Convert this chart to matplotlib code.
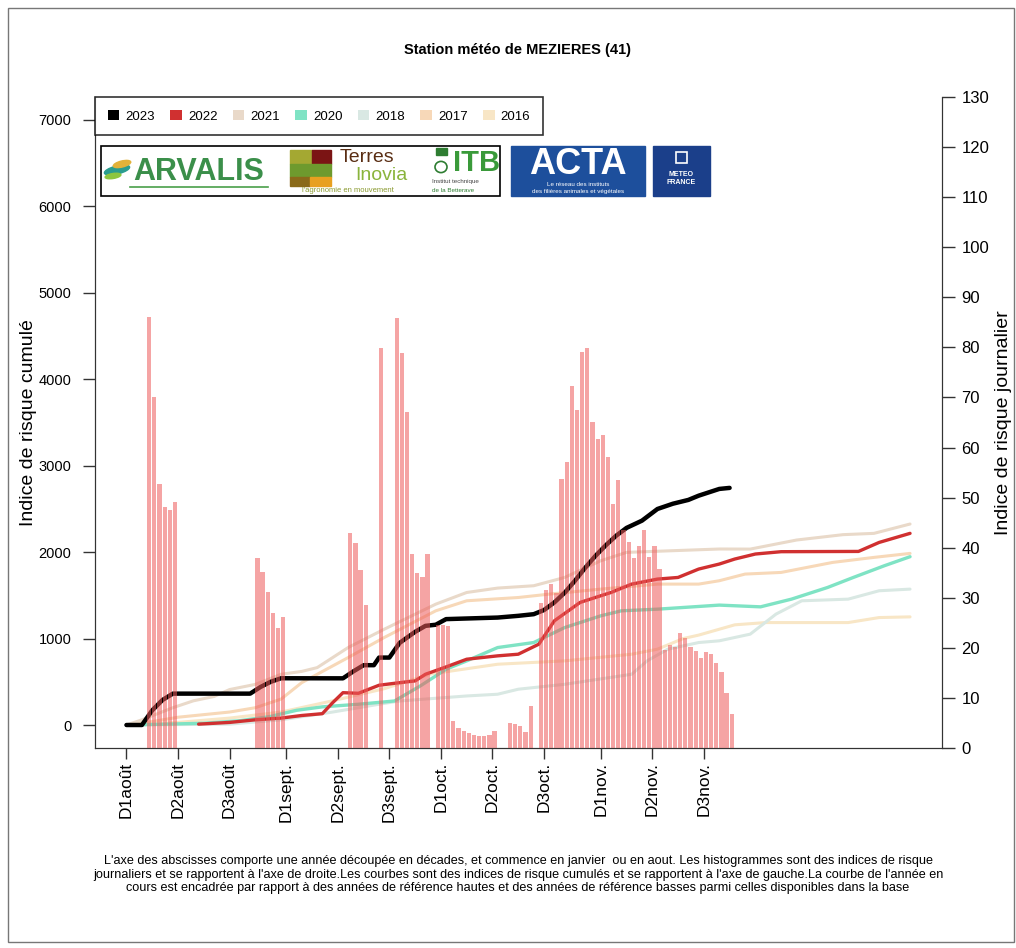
import matplotlib.pyplot as plt
from matplotlib.patches import Rectangle, Patch, Ellipse, Circle

plt.rcParams["font.family"] = ["Liberation Sans", "DejaVu Sans"]

W, H = 1016, 948

# decade ticks, days counted from 1 August
tick_days = [0, 10, 20, 31, 41, 51, 61, 71, 81, 92, 102, 112]
tick_labels = ["D1août", "D2août", "D3août", "D1sept.", "D2sept.", "D3sept.",
               "D1oct.", "D2oct.", "D3oct.", "D1nov.", "D2nov.", "D3nov."]

# daily risk index 2023 (right axis)
bar_days = [4, 5, 6, 7, 8, 9,
            25, 26, 27, 28, 29, 30,
            43, 44, 45, 46,
            49,
            52, 53, 54, 55, 56, 57, 58,
            60, 61, 62,
            63, 64, 65, 66, 67, 68, 69, 70, 71,
            74, 75, 76, 77, 78,
            80, 81, 82, 83, 84, 85, 86, 87, 88, 89,
            90, 91, 92, 93, 94, 95, 96, 97, 98, 99,
            100, 101, 102, 103, 104, 105, 106, 107, 108, 109,
            110, 111, 112, 113, 114, 115, 116, 117]
bar_vals = [86.1, 70.1, 52.8, 48.2, 47.6, 49.2,
            38.0, 35.2, 31.1, 27.0, 24.0, 26.1,
            43.0, 41.0, 35.6, 28.5,
            79.8,
            85.8, 78.8, 67.1, 38.8, 34.9, 34.2, 38.7,
            24.5, 24.6, 24.4,
            5.3, 3.9, 3.3, 2.9, 2.6, 2.3, 2.3, 2.6, 3.3,
            4.9, 4.8, 4.3, 3.1, 8.3,
            28.9, 31.5, 32.7, 30.9, 53.8, 57.2, 72.3, 67.5, 79.1, 79.8,
            65.1, 61.8, 62.6, 58.2, 48.8, 53.6, 43.5, 41.2, 37.9, 40.3,
            43.5, 38.2, 40.3, 35.7, 19.6, 20.6, 20.2, 22.9, 21.9, 20.2,
            19.4, 17.9, 19.2, 18.8, 16.9, 15.2, 11.0, 6.8]

# cumulated risk index (left axis)
days_2023 = [0, 3, 5, 7, 9, 24, 26, 28, 30, 42, 44, 46, 48, 49, 51, 53, 54, 56, 58, 60,
             62, 72, 76, 79, 81, 83, 85, 87, 89, 91, 93, 95, 97, 100, 103, 106, 109, 111, 115, 117]
vals_2023 = [0, 0, 170, 290, 363, 363, 440, 500, 541, 540, 620, 692, 692, 780, 780, 950, 993, 1078, 1147, 1160,
             1225, 1243, 1263, 1282, 1330, 1418, 1530, 1669, 1820, 1958, 2080, 2190, 2280, 2364, 2499, 2560, 2604, 2653, 2731, 2743]

days_2022 = [14, 20, 25, 30, 34, 38, 40, 42, 45, 49, 53, 56, 58, 62, 66, 72, 76, 78, 80, 83,
             88, 92, 94, 98, 103, 107, 111, 115, 118, 122, 127, 142, 146, 152]
vals_2022 = [10, 30, 60, 80, 110, 131, 258, 374, 367, 460, 490, 510, 587, 672, 761, 800, 819, 877, 935, 1205,
             1418, 1495, 1533, 1630, 1688, 1707, 1804, 1862, 1920, 1978, 2005, 2008, 2112, 2217]

days_2021 = [0, 3, 9, 13, 17, 20, 25, 30, 34, 37, 43, 50, 60, 66, 72, 79, 85, 92, 97, 115,
             121, 130, 139, 145, 152]
vals_2021 = [0, 60, 200, 280, 330, 410, 470, 587, 620, 664, 896, 1108, 1398, 1533, 1584, 1611, 1707, 1900, 1997, 2036,
             2035, 2140, 2202, 2217, 2325]

days_2020 = [0, 15, 22, 28, 33, 38, 45, 52, 57, 62, 66, 72, 79, 85, 92, 96, 103, 115, 123, 129,
             136, 141, 147, 152]
vals_2020 = [0, 20, 50, 100, 170, 210, 240, 278, 452, 645, 742, 896, 954, 1127, 1263, 1321, 1340, 1387, 1367, 1456,
             1591, 1707, 1842, 1947]

days_2018 = [0, 20, 30, 40, 50, 53, 66, 72, 76, 85, 98, 101, 105, 111, 115, 121, 126, 131, 140, 146, 152]
vals_2018 = [0, 10, 60, 150, 250, 278, 336, 356, 414, 471, 587, 742, 877, 954, 974, 1051, 1283, 1437, 1456, 1553, 1572]

days_2017 = [0, 5, 10, 15, 20, 25, 30, 34, 43, 50, 60, 66, 76, 82, 92, 103, 111, 115, 120, 127,
             137, 145, 152]
vals_2017 = [0, 40, 90, 120, 150, 200, 300, 490, 780, 1012, 1321, 1437, 1475, 1514, 1572, 1630, 1630, 1669, 1746, 1765,
             1881, 1939, 1985]

days_2016 = [0, 10, 20, 30, 40, 50, 59, 72, 85, 98, 103, 108, 111, 115, 118, 124, 140, 146, 152]
vals_2016 = [0, 30, 80, 150, 280, 420, 590, 703, 742, 819, 877, 1000, 1040, 1108, 1159, 1185, 1185, 1243, 1251]

years = ["2023", "2022", "2021", "2020", "2018", "2017", "2016"]
colors = ["#000000", "#d03030", "#e9d9c9", "#7fe3c4", "#d9e8e3", "#f7d8b8", "#f8e6c6"]

caption = ["L'axe des abscisses comporte une année découpée en décades, et commence en janvier  ou en aout. Les histogrammes sont des indices de risque",
           "journaliers et se rapportent à l'axe de droite.Les courbes sont des indices de risque cumulés et se rapportent à l'axe de gauche.La courbe de l'année en",
           "cours est encadrée par rapport à des années de référence hautes et des années de référence basses parmi celles disponibles dans la base"]


def fxy(x, y):
    # pixel position -> figure fraction
    return x / W, 1 - y / H


def box(fig, x0, y0, x1, y1, **kw):
    fig.add_artist(Rectangle(fxy(x0, y1), (x1 - x0) / W, (y1 - y0) / H,
                             transform=fig.transFigure, **kw))


def draw_logos(fig):
    box(fig, 101, 146, 500, 196, fill=False, edgecolor="black", lw=1.2)
    # ARVALIS
    fig.add_artist(Ellipse(fxy(117, 170), 26 / W, 8 / H, angle=15, color="#2a9d8f", transform=fig.transFigure))
    fig.add_artist(Ellipse(fxy(122, 164), 18 / W, 6 / H, angle=15, color="#e2b23a", transform=fig.transFigure))
    fig.add_artist(Ellipse(fxy(113, 176), 16 / W, 5 / H, angle=10, color="#8dc63f", transform=fig.transFigure))
    fig.text(*fxy(199, 172), "ARVALIS", color="#3b8f4a", fontsize=22, fontweight="bold", ha="center", va="center")
    fig.add_artist(plt.Line2D([130 / W, 268 / W], [1 - 187 / H, 1 - 187 / H], color="#4aa04a", lw=1.2))
    # Terres Inovia
    box(fig, 290, 150, 312, 164, color="#a4a832")
    box(fig, 312, 150, 331, 164, color="#7b1414")
    box(fig, 290, 164, 331, 177, color="#6e9a2e")
    box(fig, 290, 177, 310, 186, color="#8a6a1a")
    box(fig, 310, 177, 331, 186, color="#e8a020")
    fig.text(*fxy(367, 158), "Terres", color="#5a2e14", fontsize=14, ha="center", va="center")
    fig.text(*fxy(381, 176), "Inovia", color="#8ab43c", fontsize=14, ha="center", va="center")
    fig.text(*fxy(348, 191), "l'agronomie en mouvement", color="#8a9a30", fontsize=5.5, ha="center", va="center")
    # ITB
    fig.add_artist(Circle(fxy(441, 167), 6 / W, fill=False, edgecolor="#2e7d32", lw=1.2, transform=fig.transFigure))
    box(fig, 436, 148, 447, 155, color="#2e7d32")
    fig.text(*fxy(477, 163), "ITB", color="#3a9a3a", fontsize=21, fontweight="bold", ha="center", va="center")
    fig.text(*fxy(432, 182), "Institut technique", color="#444444", fontsize=4.5, va="center")
    fig.text(*fxy(432, 190), "de la Betterave", color="#2e7d32", fontsize=4.5, va="center")
    # ACTA
    box(fig, 511, 146, 645, 196, color="#1d4f9c")
    fig.text(*fxy(578, 164), "ACTA", color="white", fontsize=26, fontweight="bold", ha="center", va="center")
    fig.text(*fxy(578, 184), "Le réseau des instituts", color="white", fontsize=4.5, ha="center", va="center")
    fig.text(*fxy(578, 191), "des filières animales et végétales", color="white", fontsize=4.5, ha="center", va="center")
    # Meteo France
    box(fig, 653, 146, 710, 196, color="#1b3f8a")
    box(fig, 676, 152, 687, 163, fill=False, edgecolor="white", lw=1.2)
    fig.text(*fxy(681, 174), "METEO", color="white", fontsize=5, fontweight="bold", ha="center", va="center")
    fig.text(*fxy(681, 182), "FRANCE", color="white", fontsize=5, fontweight="bold", ha="center", va="center")


fig = plt.figure(figsize=(W / 100, H / 100), dpi=100)
ax = fig.add_axes([95 / W, 1 - 748 / H, (942 - 95) / W, (748 - 97) / H])

series = [(days_2016, vals_2016), (days_2017, vals_2017), (days_2018, vals_2018),
          (days_2020, vals_2020), (days_2021, vals_2021), (days_2022, vals_2022),
          (days_2023, vals_2023)]
line_colors = [colors[6], colors[5], colors[4], colors[3], colors[2], colors[1], colors[0]]
widths = [2.2, 2.2, 2.2, 2.4, 2.2, 2.4, 3.2]
for (d, v), c, lw in zip(series, line_colors, widths):
    ax.plot(d, v, color=c, lw=lw, solid_capstyle="round", solid_joinstyle="round")

ax.set_xlim(-6.1, 158.2)
ax.set_ylim(-266, 7265)
ax.set_yticks(range(0, 7001, 1000))
ax.set_xticks(tick_days)
ax.set_xticklabels(tick_labels, rotation=90, fontsize=12.5)
ax.tick_params(axis="y", labelsize=10.5, length=9, width=1, color="#333333", pad=8)
ax.tick_params(axis="x", length=8, width=1, color="#333333", pad=2)
ax.set_ylabel("Indice de risque cumulé", fontsize=14, labelpad=1)
ax.spines["top"].set_visible(False)
for s in ["left", "bottom", "right"]:
    ax.spines[s].set_color("#333333")

ax2 = ax.twinx()
ax2.bar(bar_days, bar_vals, width=0.82, align="edge", color="#ee5a5a", alpha=0.55, linewidth=0)
ax2.set_ylim(0, 130)
ax2.set_yticks(range(0, 131, 10))
ax2.tick_params(axis="y", labelsize=12, length=9, width=1, color="#333333", pad=5)
ax2.set_ylabel("Indice de risque journalier", fontsize=14, labelpad=4)
ax2.spines["top"].set_visible(False)
for s in ["left", "bottom", "right"]:
    ax2.spines[s].set_color("#333333")

handles = [Patch(facecolor=c, edgecolor="none") for c in colors]
leg = ax2.legend(handles, years, loc="upper left", bbox_to_anchor=(0, 1), ncol=7,
                 fontsize=9.5, frameon=True, fancybox=False, borderaxespad=0,
                 handlelength=0.9, handleheight=0.9, handletextpad=0.45,
                 columnspacing=1.15, borderpad=0.95)
leg.get_frame().set_edgecolor("black")
leg.get_frame().set_linewidth(1.2)

fig.text(518 / W, 1 - 50 / H, "Station météo de MEZIERES (41)", ha="center", va="center",
         fontsize=10.5, fontweight="bold")

draw_logos(fig)

for i, line in enumerate(caption):
    fig.text(518 / W, 1 - (861 + 13.7 * i) / H, line, ha="center", va="center", fontsize=9.1)

box(fig, 8, 8, 1014, 942, fill=False, edgecolor="#777777", lw=1)

fig.savefig("out.png", dpi=100)
